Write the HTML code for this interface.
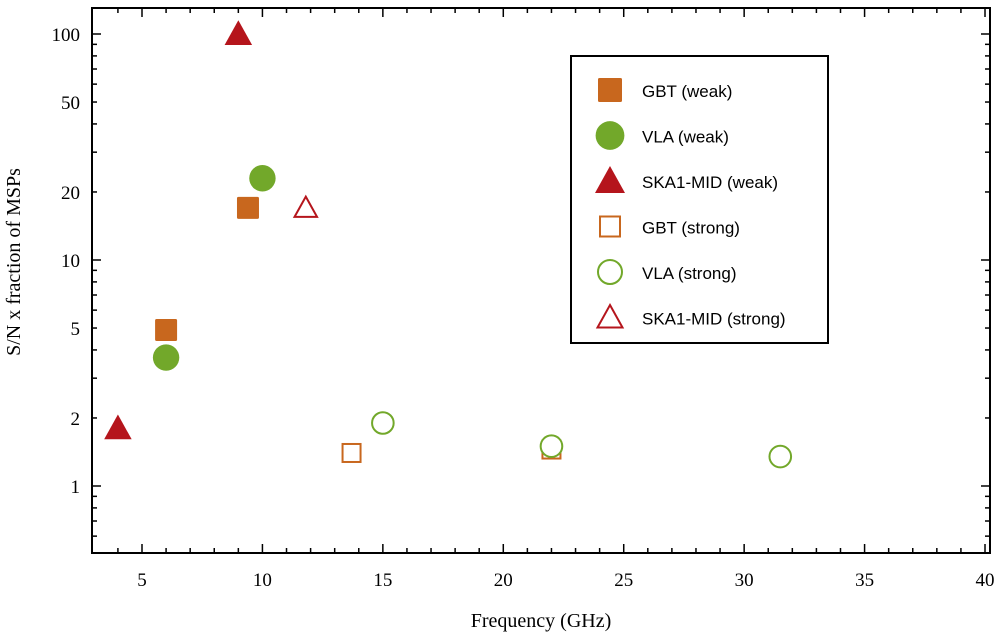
<!DOCTYPE html>
<html><head><meta charset="utf-8"><style>
body{margin:0;background:#fff}
svg text{font-family:"Liberation Serif",serif;fill:#000}
.lg{font-family:"Liberation Sans",sans-serif;font-size:17px}
</style></head><body>
<svg id="c" width="1000" height="633"></svg>
<script>
const xTicks=[5,10,15,20,25,30,35,40];
const yTicks=[1,2,5,10,20,50,100];
const gbtWeakX=[6,9.4], gbtWeakY=[4.9,17];
const vlaWeakX=[6,10], vlaWeakY=[3.7,23];
const skaWeakX=[4,9], skaWeakY=[1.8,100];
const gbtStrongX=[13.7,22], gbtStrongY=[1.4,1.45];
const vlaStrongX=[15,22,31.5], vlaStrongY=[1.9,1.5,1.35];
const skaStrongX=[11.8], skaStrongY=[17];
const legendLabels=["GBT (weak)","VLA (weak)","SKA1-MID (weak)","GBT (strong)","VLA (strong)","SKA1-MID (strong)"];

const L=92,R=990,T=8,B=553;
const X=v=>142+(v-5)*24.086;
const Y=v=>486-Math.log10(v)*226;
const NS="http://www.w3.org/2000/svg";
const svg=document.getElementById('c');
function mk(t,a,p){const e=document.createElementNS(NS,t);for(const k in a)e.setAttribute(k,a[k]);(p||svg).appendChild(e);return e;}
const ORG="#c8671e",GRN="#72a82a",RED="#b5151c";
const frame=mk('rect',{x:L,y:T,width:R-L,height:B-T,fill:'none',stroke:'#000','stroke-width':2});


// x ticks
for(let v=4;v<=40;v++){const x=X(v),len=(v%5==0)?9:5;
 mk('line',{x1:x,y1:B,x2:x,y2:B-len,stroke:'#000','stroke-width':1.5});
 mk('line',{x1:x,y1:T,x2:x,y2:T+len,stroke:'#000','stroke-width':1.5});}
xTicks.forEach(v=>{const t=mk('text',{x:X(v),y:586,'text-anchor':'middle','font-size':19});t.textContent=v;
 
 });
// y ticks
for(let d=-1;d<=2;d++)for(let m=1;m<=9;m++){const v=m*Math.pow(10,d);const y=Y(v);if(y<T||y>B)continue;
 const len=m==1?9:5;
 mk('line',{x1:L,y1:y,x2:L+len,y2:y,stroke:'#000','stroke-width':1.5});
 mk('line',{x1:R,y1:y,x2:R-len,y2:y,stroke:'#000','stroke-width':1.5});}
yTicks.forEach(v=>{const t=mk('text',{x:80,y:Y(v)+7,'text-anchor':'end','font-size':19});t.textContent=v;
 
 });
const xt=mk('text',{x:541,y:627,'text-anchor':'middle','font-size':20});xt.textContent="Frequency (GHz)";


const yt=mk('text',{x:0,y:0,'text-anchor':'middle','font-size':20,transform:'translate(20,262) rotate(-90)'});yt.textContent="S/N x fraction of MSPs";


function marker(shape,fill,col,x,y,s){
 let e;
 if(shape=='sq')e=mk('rect',{x:x-s,y:y-s,width:2*s,height:2*s,rx:fill?1.5:0});
 else if(shape=='ci')e=mk('circle',{cx:x,cy:y,r:s*1.2});
 else e=mk('polygon',{points:`${x},${y-s*1.25} ${x+s*1.25},${y+s} ${x-s*1.25},${y+s}`});
 e.setAttribute('fill',fill?col:'#fff');e.setAttribute('stroke',col);e.setAttribute('stroke-width',fill?0:2);
 return e;}
const series=[["sq",1,ORG,gbtWeakX,gbtWeakY,"gbt-weak"],["ci",1,GRN,vlaWeakX,vlaWeakY,"vla-weak"],["tr",1,RED,skaWeakX,skaWeakY,"ska-weak"],
 ["sq",0,ORG,gbtStrongX,gbtStrongY,"gbt-strong"],["ci",0,GRN,vlaStrongX,vlaStrongY,"vla-strong"],["tr",0,RED,skaStrongX,skaStrongY,"ska-strong"]];
series.forEach(s=>{s[3].forEach((xv,i)=>{const e=marker(s[0],s[1],s[2],X(xv),Y(s[4][i]),s[1]?11:9);
 
 });});
// legend
const lb=mk('rect',{x:571,y:56,width:257,height:287,fill:'#fff',stroke:'#000','stroke-width':2});


series.forEach((s,i)=>{const y=90+i*45.5;
 const m=marker(s[0],s[1],s[2],610,y,s[1]?12:10);
 
 
 const t=mk('text',{x:642,y:y+7,class:'lg'});t.textContent=legendLabels[i];
 
 });
</script></body></html>
